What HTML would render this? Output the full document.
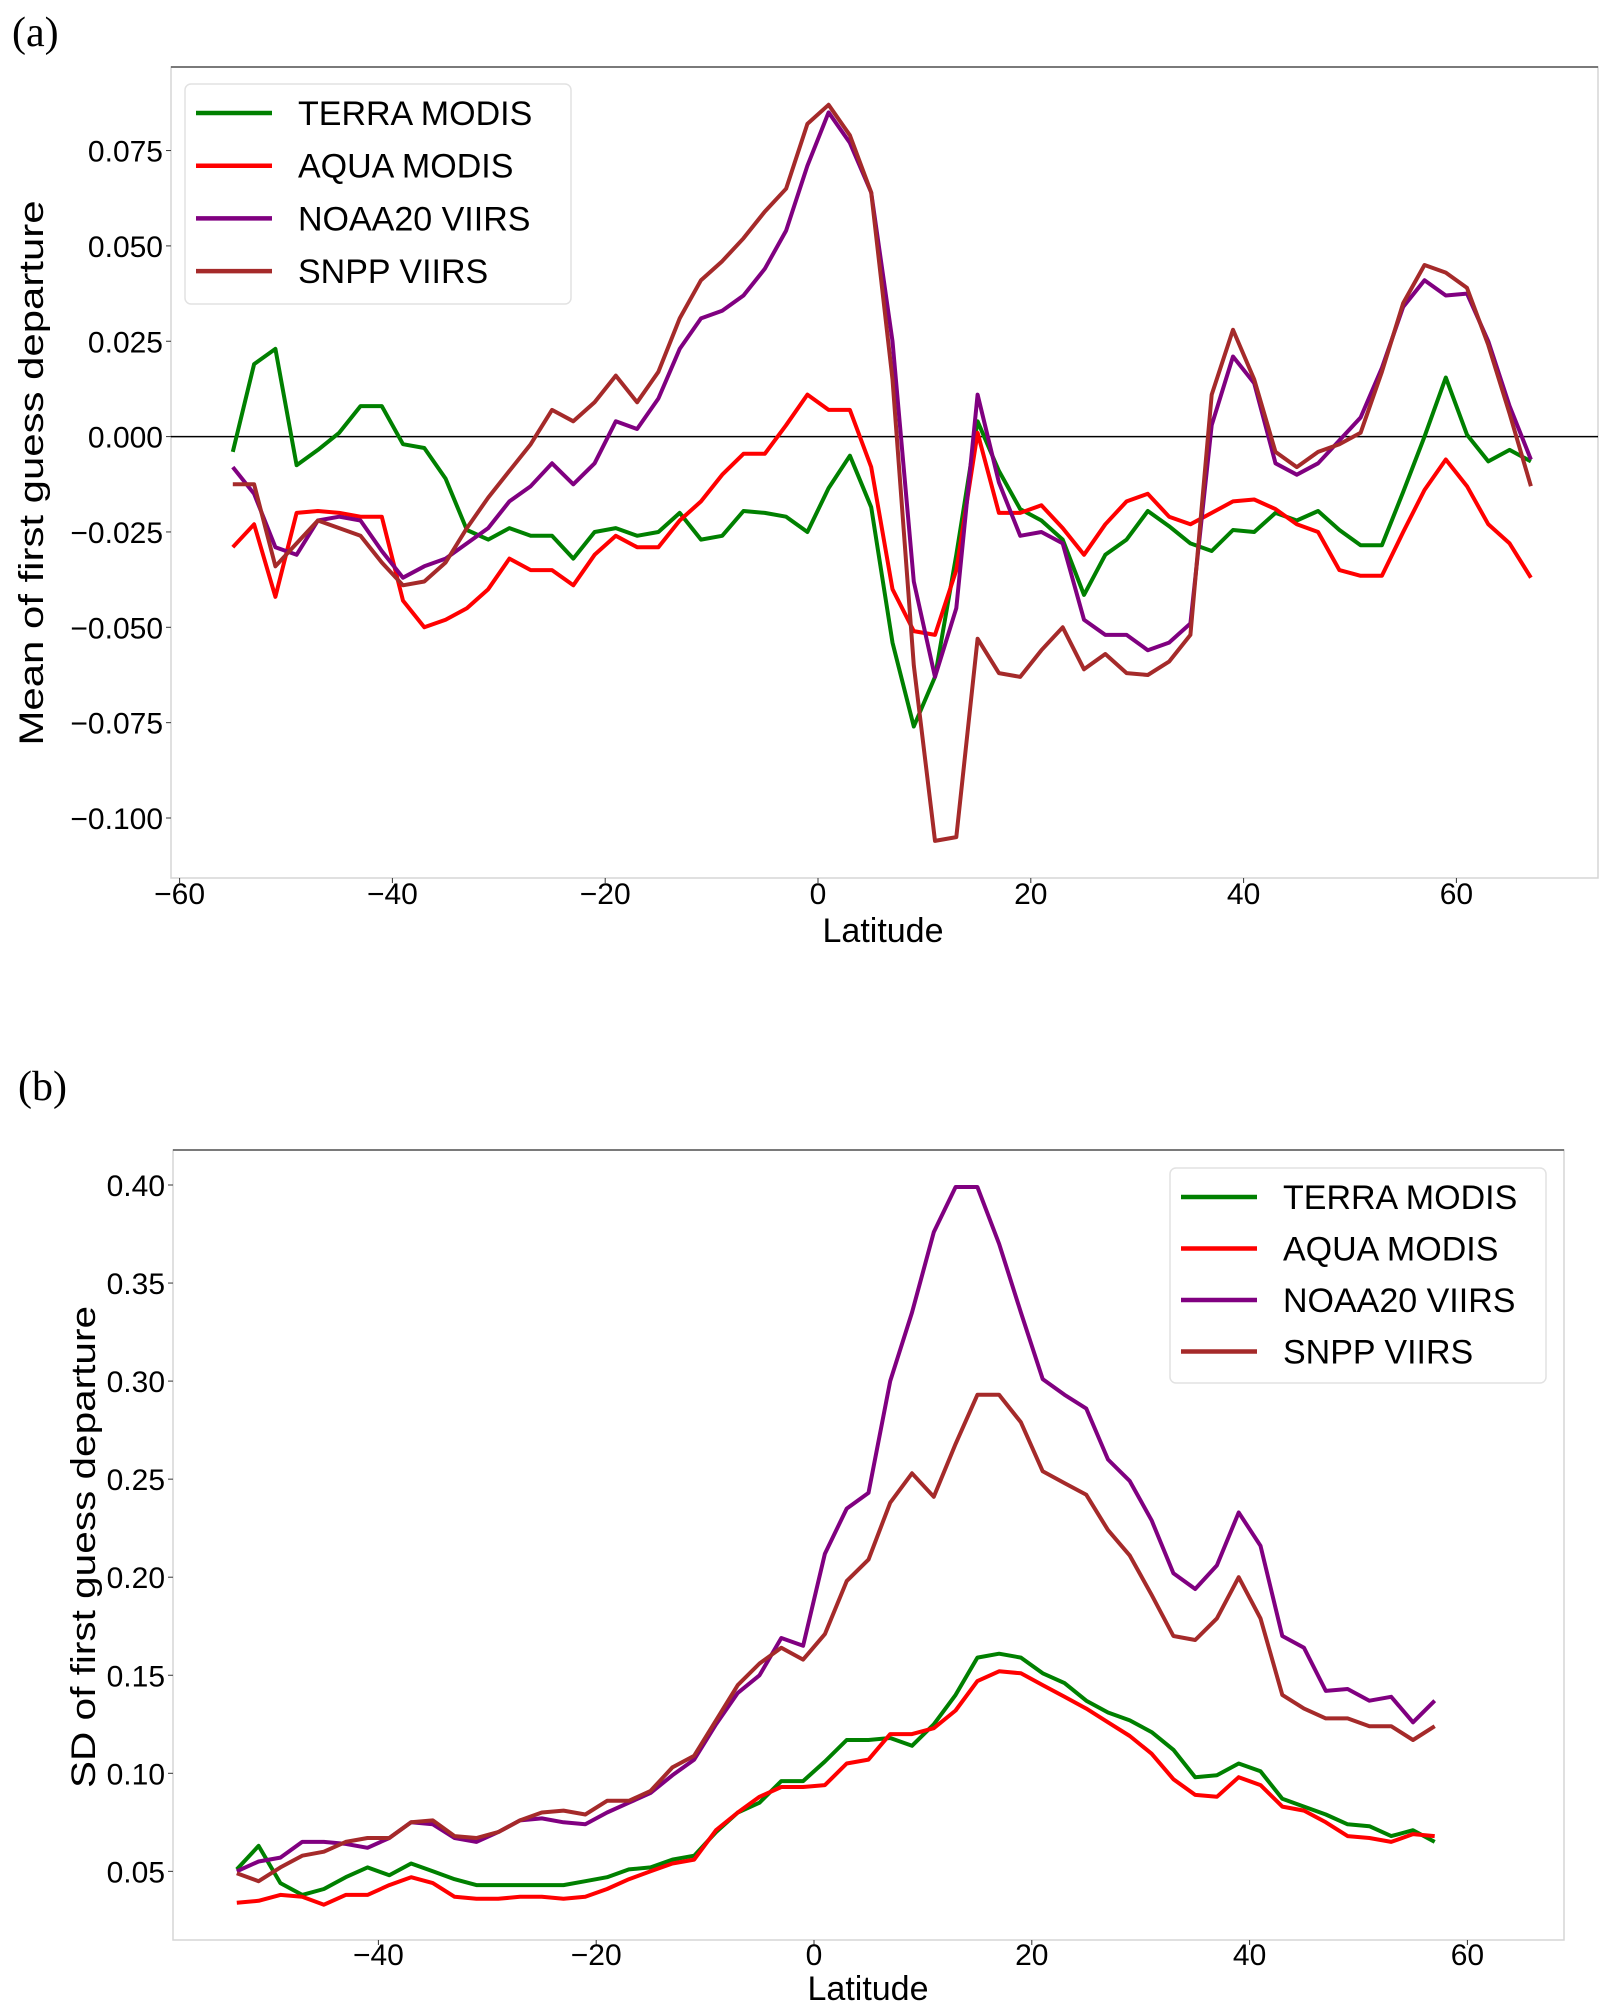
<!DOCTYPE html>
<html><head><meta charset="utf-8"><style>
html,body{margin:0;padding:0;background:#fff;}
svg{display:block;font-family:"Liberation Sans","DejaVu Sans",sans-serif;}
</style></head><body>
<svg id="fig" width="1610" height="2015" viewBox="0 0 1610 2015" xmlns="http://www.w3.org/2000/svg">
<rect width="1610" height="2015" fill="#fff"/>
<text x="12" y="46" font-family="Liberation Serif,serif" font-size="42">(a)</text>
<text x="18" y="1100" font-family="Liberation Serif,serif" font-size="42">(b)</text>
<g id="pa"></g>
<g id="pb"></g>
</svg>
<script>
const latA = [];
for (let v = -55; v <= 67; v += 2) latA.push(v);
const terraA = [-0.004,0.019,0.023,-0.0075,-0.0035,0.001,0.008,0.008,-0.002,-0.003,-0.011,-0.0245,-0.027,-0.024,-0.026,-0.026,-0.032,-0.025,-0.024,-0.026,-0.025,-0.020,-0.027,-0.026,-0.0195,-0.020,-0.021,-0.025,-0.0135,-0.005,-0.0185,-0.054,-0.076,-0.063,-0.031,0.004,-0.009,-0.019,-0.022,-0.027,-0.0415,-0.031,-0.027,-0.0195,-0.0235,-0.028,-0.030,-0.0245,-0.025,-0.020,-0.022,-0.0195,-0.0245,-0.0285,-0.0285,-0.0145,0,0.0155,0.0005,-0.0065,-0.0035,-0.0065];
const aquaA = [-0.029,-0.023,-0.042,-0.020,-0.0195,-0.020,-0.021,-0.021,-0.043,-0.050,-0.048,-0.045,-0.040,-0.032,-0.035,-0.035,-0.039,-0.031,-0.026,-0.029,-0.029,-0.022,-0.017,-0.010,-0.0045,-0.0045,0.003,0.011,0.007,0.007,-0.008,-0.040,-0.051,-0.052,-0.035,0.001,-0.020,-0.020,-0.018,-0.024,-0.031,-0.023,-0.017,-0.015,-0.021,-0.023,-0.020,-0.017,-0.0165,-0.019,-0.023,-0.025,-0.035,-0.0365,-0.0365,-0.025,-0.014,-0.006,-0.013,-0.023,-0.028,-0.037];
const noaaA = [-0.008,-0.015,-0.029,-0.031,-0.022,-0.021,-0.022,-0.030,-0.037,-0.034,-0.032,-0.028,-0.024,-0.017,-0.013,-0.007,-0.0125,-0.007,0.004,0.002,0.010,0.023,0.031,0.033,0.037,0.044,0.054,0.071,0.085,0.077,0.064,0.025,-0.038,-0.063,-0.045,0.011,-0.012,-0.026,-0.025,-0.028,-0.048,-0.052,-0.052,-0.056,-0.054,-0.049,0.003,0.021,0.014,-0.007,-0.010,-0.007,-0.001,0.005,0.018,0.034,0.041,0.037,0.0375,0.025,0.008,-0.006];
const snppA = [-0.0125,-0.0125,-0.034,-0.028,-0.022,-0.024,-0.026,-0.033,-0.039,-0.038,-0.033,-0.024,-0.016,-0.009,-0.002,0.007,0.004,0.009,0.016,0.009,0.017,0.031,0.041,0.046,0.052,0.059,0.065,0.082,0.087,0.079,0.064,0.015,-0.060,-0.106,-0.105,-0.053,-0.062,-0.063,-0.056,-0.050,-0.061,-0.057,-0.062,-0.0625,-0.059,-0.052,0.011,0.028,0.015,-0.004,-0.008,-0.004,-0.002,0.001,0.017,0.035,0.045,0.043,0.039,0.024,0.006,-0.013];
const xTicksA = [-60,-40,-20,0,20,40,60];
const yTicksA = [0.075,0.050,0.025,0.000,-0.025,-0.050,-0.075,-0.100];
const yTickLabelsA = ["0.075","0.050","0.025","0.000","\u22120.025","\u22120.050","\u22120.075","\u22120.100"];

const latB = [];
for (let v = -53; v <= 57; v += 2) latB.push(v);
const terraB = [.051,.063,.044,.038,.041,.047,.052,.048,.054,.050,.046,.043,.043,.043,.043,.043,.045,.047,.051,.052,.056,.058,.070,.080,.085,.096,.096,.106,.117,.117,.118,.114,.125,.140,.159,.161,.159,.151,.146,.137,.131,.127,.121,.112,.098,.099,.105,.101,.087,.083,.079,.074,.073,.068,.071,.065];
const aquaB = [.034,.035,.038,.037,.033,.038,.038,.043,.047,.044,.037,.036,.036,.037,.037,.036,.037,.041,.046,.050,.054,.056,.071,.080,.088,.093,.093,.094,.105,.107,.120,.120,.123,.132,.147,.152,.151,.145,.139,.133,.126,.119,.110,.097,.089,.088,.098,.094,.083,.081,.075,.068,.067,.065,.069,.068];
const noaaB = [.050,.055,.057,.065,.065,.064,.062,.067,.075,.074,.067,.065,.070,.076,.077,.075,.074,.080,.085,.090,.099,.107,.125,.141,.150,.169,.165,.212,.235,.243,.300,.335,.376,.399,.399,.370,.335,.301,.293,.286,.260,.249,.229,.202,.194,.206,.233,.216,.170,.164,.142,.143,.137,.139,.126,.137];
const snppB = [.049,.045,.052,.058,.060,.065,.067,.067,.075,.076,.068,.067,.070,.076,.080,.081,.079,.086,.086,.091,.103,.109,.127,.145,.156,.164,.158,.171,.198,.209,.238,.253,.241,.268,.293,.293,.279,.254,.248,.242,.224,.211,.191,.170,.168,.179,.200,.179,.140,.133,.128,.128,.124,.124,.117,.124];
const xTicksB = [-40,-20,0,20,40,60];
const yTicksB = [0.40,0.35,0.30,0.25,0.20,0.15,0.10,0.05];
const yTickLabelsB = ["0.40","0.35","0.30","0.25","0.20","0.15","0.10","0.05"];

const seriesNames = ["TERRA MODIS","AQUA MODIS","NOAA20 VIIRS","SNPP VIIRS"];
const seriesColors = ["#008000","#ff0000","#800080","#a52a2a"];

const NS = "http://www.w3.org/2000/svg";
function mk(parent, tag, attrs, text) {
  const e = document.createElementNS(NS, tag);
  for (const k in attrs) e.setAttribute(k, attrs[k]);
  if (text !== undefined) e.textContent = text;
  parent.appendChild(e);
  return e;
}

function drawChart(g, cfg) {
  const sx = v => cfg.x0px + (v - cfg.x0v) * cfg.xpx;
  const sy = v => cfg.y0px - (v - cfg.y0v) * cfg.ypx;
  const frame = mk(g, 'rect', {x: cfg.L, y: cfg.T, width: cfg.R - cfg.L, height: cfg.B - cfg.T, fill: 'none', stroke: '#d6d6d6', 'stroke-width': 1.5});
  
  
  const topSpine = mk(g, 'line', {x1: cfg.L, y1: cfg.T, x2: cfg.R, y2: cfg.T, stroke: '#555', 'stroke-width': 1.5});
  
  
  if (cfg.zeroLine) {
    const z = mk(g, 'line', {x1: cfg.L, y1: sy(0), x2: cfg.R, y2: sy(0), stroke: '#000', 'stroke-width': 1.5});
    
    
  }
  cfg.xTicks.forEach(t => {
    const x = sx(t);
    mk(g, 'line', {x1: x, y1: cfg.B, x2: x, y2: cfg.B + 5, stroke: '#333', 'stroke-width': 1});
    const lb = mk(g, 'text', {x: x, y: cfg.xLabelY, 'font-size': 30, 'text-anchor': 'middle'}, t < 0 ? '\u2212' + Math.abs(t) : String(t));
    
    
  });
  cfg.yTicks.forEach((t, i) => {
    const y = sy(t);
    mk(g, 'line', {x1: cfg.L - 5, y1: y, x2: cfg.L, y2: y, stroke: '#333', 'stroke-width': 1});
    const lb = mk(g, 'text', {x: cfg.L - 8, y: y + 11, 'font-size': 30, 'text-anchor': 'end'}, cfg.yLabels[i]);
    
    
  });
  const xt = mk(g, 'text', {x: cfg.xTitleX, y: cfg.xTitleY, 'font-size': 34, 'text-anchor': 'middle'}, 'Latitude');
  
  
  const yt = mk(g, 'text', {x: 0, y: 0, 'font-size': 34, 'text-anchor': 'middle', transform: `translate(${cfg.yTitleX},${cfg.yTitleY}) rotate(-90)`, textLength: cfg.yTitleLen, lengthAdjust: 'spacingAndGlyphs'}, cfg.yTitle);
  
  
  cfg.series.forEach((vals, si) => {
    const pts = vals.map((v, i) => sx(cfg.lats[i]).toFixed(1) + ',' + sy(v).toFixed(1)).join(' ');
    const pl = mk(g, 'polyline', {points: pts, fill: 'none', stroke: seriesColors[si], 'stroke-width': 4, 'stroke-linejoin': 'round'});
    
    
  });
  const lg = mk(g, 'g', {});
  
  
  mk(lg, 'rect', {x: cfg.legX, y: cfg.legY, width: cfg.legW, height: cfg.legH, rx: 6, fill: '#fff', 'fill-opacity': 0.85, stroke: '#e2e2e2', 'stroke-width': 1.5});
  seriesNames.forEach((n, i) => {
    const y = cfg.legRow0 + i * cfg.legStep;
    const ent = mk(lg, 'g', {});
    
    
    mk(ent, 'line', {x1: cfg.legX + 11, y1: y, x2: cfg.legX + 87, y2: y, stroke: seriesColors[i], 'stroke-width': 4.5});
    mk(ent, 'text', {x: cfg.legX + 113, y: y + 12, 'font-size': 34}, n);
  });
}

drawChart(document.getElementById('pa'), {
  L: 171, R: 1598, T: 67, B: 878,
  x0v: 0, x0px: 818, xpx: 10.64,
  y0v: 0, y0px: 436.6, ypx: 3814,
  zeroLine: true,
  xTicks: xTicksA, yTicks: yTicksA, yLabels: yTickLabelsA,
  xLabelY: 904, xTitleX: 883, xTitleY: 942,
  yTitle: 'Mean of first guess departure', yTitleX: 43, yTitleY: 473, yTitleLen: 545,
  lats: latA, series: [terraA, aquaA, noaaA, snppA],
  legX: 185, legY: 84, legW: 386, legH: 220, legRow0: 113, legStep: 52.7
});

drawChart(document.getElementById('pb'), {
  L: 173, R: 1564, T: 1150, B: 1940,
  x0v: 0, x0px: 814, xpx: 10.89,
  y0v: 0.40, y0px: 1185, ypx: 1961,
  zeroLine: false,
  xTicks: xTicksB, yTicks: yTicksB, yLabels: yTickLabelsB,
  xLabelY: 1965, xTitleX: 868, xTitleY: 2000,
  yTitle: 'SD of first guess departure', yTitleX: 95, yTitleY: 1547, yTitleLen: 482,
  lats: latB, series: [terraB, aquaB, noaaB, snppB],
  legX: 1170, legY: 1168, legW: 376, legH: 215, legRow0: 1197, legStep: 51.5
});
</script>
</body></html>
